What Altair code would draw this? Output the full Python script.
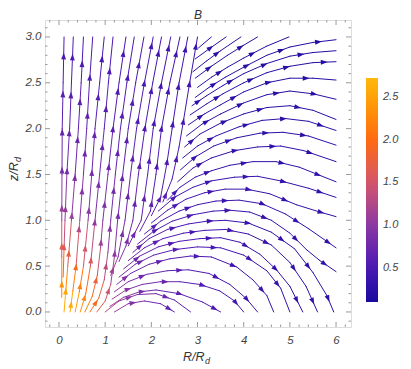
import math
import altair as alt
import pandas as pd

# ---------------- axis ranges and ticks ----------------
X_MIN, X_MAX = -0.303, 6.324
Y_MIN, Y_MAX = -0.164, 3.185
X_LABELS = [0, 1, 2, 3, 4, 5, 6]
Y_LABELS = [0.0, 0.5, 1.0, 1.5, 2.0, 2.5, 3.0]
X_MINOR = [-0.2, 0.2, 0.4, 0.6, 0.8, 1.2, 1.4, 1.6, 1.8, 2.2, 2.4, 2.6, 2.8, 3.2, 3.4, 3.6, 3.8,
           4.2, 4.4, 4.6, 4.8, 5.2, 5.4, 5.6, 5.8, 6.2]
Y_MINOR = [-0.1, 0.1, 0.2, 0.3, 0.4, 0.6, 0.7, 0.8, 0.9, 1.1, 1.2, 1.3, 1.4, 1.6, 1.7, 1.8, 1.9,
           2.1, 2.2, 2.3, 2.4, 2.6, 2.7, 2.8, 2.9, 3.1]
CBAR_LABELS = [0.5, 1.0, 1.5, 2.0, 2.5]
CBAR_STOPS = [0.1, 0.5, 1.0, 1.5, 2.0, 2.5, 2.72]
CBAR_COLORS = ["#1a0a9e", "#4a17b4", "#8c38a3", "#d4566c", "#ff6a10", "#ffa306", "#ffb70a"]

# ---------------- streamlines: (R, z) points and |B| per point ----------------
# fan of field lines leaving the inner disc and going to the top edge
F1 = [(0.06, 0.16), (0.06, 0.6), (0.06, 1.0), (0.065, 1.5), (0.07, 2.0), (0.09, 2.5), (0.11, 3.0)]
F1_B = [2.6, 1.9, 1.15, 0.85, 0.7, 0.58, 0.5]
F2 = [(0.09, 0.38), (0.11, 0.7), (0.13, 1.0), (0.17, 1.5), (0.23, 2.0), (0.27, 2.5), (0.31, 3.0)]
F2_B = [2.2, 1.6, 1.15, 0.85, 0.7, 0.58, 0.5]
F3 = [(0.11, 0.0), (0.15, 0.25), (0.19, 0.5), (0.27, 1.0), (0.35, 1.5), (0.42, 2.0), (0.48, 2.5), (0.53, 3.0)]
F3_B = [2.7, 2.5, 2.0, 1.15, 0.85, 0.7, 0.58, 0.5]
F4 = [(0.24, 0.0), (0.3, 0.23), (0.37, 0.5), (0.45, 1.0), (0.53, 1.5), (0.6, 2.0), (0.66, 2.5), (0.73, 3.0)]
F4_B = [2.7, 2.4, 1.95, 1.1, 0.85, 0.68, 0.57, 0.5]
F5 = [(0.35, 0.0), (0.44, 0.22), (0.53, 0.5), (0.63, 1.0), (0.71, 1.5), (0.78, 2.0), (0.88, 2.5), (0.98, 3.0)]
F5_B = [2.6, 2.3, 1.85, 1.05, 0.82, 0.67, 0.56, 0.48]
F6 = [(0.46, 0.0), (0.58, 0.2), (0.68, 0.5), (0.78, 1.0), (0.88, 1.5), (0.98, 2.0), (1.07, 2.5), (1.17, 3.0)]
F6_B = [2.5, 2.2, 1.7, 1.0, 0.8, 0.65, 0.55, 0.47]
F7 = [(0.56, 0.0), (0.72, 0.17), (0.83, 0.4), (0.9, 0.7), (0.95, 1.0), (1.06, 1.5), (1.17, 2.0), (1.3, 2.5), (1.45, 3.0)]
F7_B = [2.3, 2.1, 1.7, 1.2, 0.95, 0.78, 0.63, 0.53, 0.46]
F8 = [(0.67, 0.0), (0.86, 0.15), (0.98, 0.35), (1.06, 0.65), (1.12, 1.0), (1.22, 1.5), (1.33, 2.0), (1.47, 2.5), (1.63, 3.0)]
F8_B = [2.1, 1.9, 1.55, 1.1, 0.9, 0.75, 0.62, 0.52, 0.45]
F9 = [(0.82, 0.0), (1.0, 0.12), (1.12, 0.3), (1.2, 0.6), (1.27, 1.0), (1.38, 1.5), (1.5, 2.0), (1.66, 2.5), (1.84, 3.0)]
F9_B = [1.8, 1.6, 1.35, 1.0, 0.85, 0.72, 0.6, 0.5, 0.44]
F10 = [(1.12, 0.4), (1.28, 0.6), (1.43, 1.0), (1.55, 1.5), (1.68, 2.0), (1.85, 2.5), (2.04, 3.0)]
F10_B = [1.2, 1.0, 0.8, 0.68, 0.58, 0.49, 0.43]
F11 = [(1.3, 0.55), (1.45, 0.72), (1.6, 1.0), (1.72, 1.5), (1.86, 2.0), (2.03, 2.5), (2.22, 3.0)]
F11_B = [1.0, 0.9, 0.75, 0.64, 0.55, 0.47, 0.42]
F12 = [(1.5, 0.72), (1.78, 1.0), (1.92, 1.5), (2.04, 2.0), (2.22, 2.5), (2.42, 3.0)]
F12_B = [0.85, 0.7, 0.6, 0.52, 0.45, 0.4]
F13 = [(1.75, 0.88), (1.98, 1.1), (2.1, 1.5), (2.22, 2.0), (2.4, 2.5), (2.62, 3.0)]
F13_B = [0.75, 0.65, 0.56, 0.5, 0.44, 0.39]
F14 = [(2.0, 1.05), (2.2, 1.25), (2.33, 1.6), (2.45, 2.0), (2.6, 2.5), (2.79, 3.0)]
F14_B = [0.68, 0.6, 0.52, 0.47, 0.42, 0.38]
F15 = [(2.25, 1.2), (2.45, 1.45), (2.6, 1.8), (2.7, 2.1), (2.83, 2.5), (3.0, 3.0)]
F15_B = [0.62, 0.56, 0.5, 0.45, 0.4, 0.36]

# loops that return to the disc
B1 = [(1.2, 0.0), (1.5, 0.09), (1.85, 0.12), (2.2, 0.09), (2.5, 0.0)]
B1_B = [1.2, 0.95, 0.85, 0.75, 0.65]
B2 = [(1.0, 0.0), (1.3, 0.12), (1.7, 0.19), (2.1, 0.2), (2.5, 0.13), (2.85, 0.0)]
B2_B = [1.45, 1.1, 0.9, 0.8, 0.7, 0.6]
B3 = [(1.1, 0.06), (1.4, 0.16), (1.75, 0.22), (2.1, 0.24), (2.6, 0.2), (3.1, 0.11), (3.5, 0.0)]
B3_B = [1.25, 1.0, 0.85, 0.75, 0.65, 0.56, 0.5]
B4 = [(1.15, 0.14), (1.45, 0.24), (1.8, 0.3), (2.2, 0.33), (2.62, 0.33), (3.05, 0.3), (3.48, 0.23), (3.8, 0.12), (4.0, 0.0)]
B4_B = [1.2, 1.0, 0.85, 0.75, 0.66, 0.58, 0.5, 0.45, 0.42]
B5 = [(1.2, 0.22), (1.5, 0.33), (1.9, 0.41), (2.35, 0.45), (2.8, 0.46), (3.25, 0.42), (3.7, 0.3), (4.05, 0.15), (4.3, 0.0)]
B5_B = [1.1, 0.92, 0.78, 0.67, 0.58, 0.5, 0.44, 0.4, 0.38]
B6 = [(1.25, 0.3), (1.55, 0.42), (1.95, 0.52), (2.4, 0.58), (2.85, 0.61), (3.3, 0.6), (3.85, 0.49), (4.2, 0.35), (4.5, 0.18), (4.65, 0.0)]
B6_B = [1.0, 0.85, 0.72, 0.62, 0.54, 0.47, 0.41, 0.37, 0.35, 0.34]
B7 = [(1.3, 0.38), (1.65, 0.52), (2.05, 0.62), (2.5, 0.68), (3.0, 0.71), (3.5, 0.7), (4.0, 0.62), (4.5, 0.45), (4.8, 0.26), (5.0, 0.0)]
B7_B = [0.95, 0.8, 0.68, 0.58, 0.5, 0.44, 0.39, 0.35, 0.33, 0.32]
B8 = [(1.4, 0.47), (1.75, 0.61), (2.15, 0.71), (2.6, 0.77), (3.05, 0.8), (3.5, 0.81), (3.92, 0.76), (4.35, 0.63), (4.71, 0.46), (5.0, 0.28), (5.28, 0.0)]
B8_B = [0.88, 0.75, 0.64, 0.55, 0.48, 0.42, 0.38, 0.34, 0.32, 0.31, 0.3]
B9 = [(1.5, 0.56), (1.85, 0.7), (2.25, 0.8), (2.7, 0.86), (3.15, 0.89), (3.6, 0.9), (4.1, 0.85), (4.6, 0.73), (5.0, 0.54), (5.35, 0.28), (5.6, 0.0)]
B9_B = [0.8, 0.7, 0.6, 0.52, 0.46, 0.4, 0.36, 0.33, 0.31, 0.29, 0.28]
B10 = [(1.6, 0.65), (1.95, 0.8), (2.35, 0.9), (2.8, 0.96), (3.2, 0.99), (3.6, 1.0), (4.1, 0.97), (4.6, 0.87), (5.1, 0.69), (5.5, 0.43), (5.8, 0.18), (5.95, 0.0)]
B10_B = [0.75, 0.65, 0.56, 0.49, 0.43, 0.38, 0.35, 0.32, 0.3, 0.28, 0.27, 0.27]

# lower arches leaving through the right edge
G1 = [(1.7, 0.74), (2.05, 0.88), (2.45, 0.99), (2.9, 1.06), (3.34, 1.1), (3.7, 1.11), (4.13, 1.09), (4.6, 1.0), (5.0, 0.86), (5.36, 0.68), (5.65, 0.56), (6.0, 0.44)]
G1_B = [0.7, 0.6, 0.52, 0.46, 0.41, 0.38, 0.35, 0.33, 0.31, 0.3, 0.29, 0.28]
G2 = [(1.85, 0.85), (2.2, 0.99), (2.6, 1.1), (3.0, 1.17), (3.4, 1.21), (3.9, 1.22), (4.4, 1.18), (4.9, 1.07), (5.4, 0.91), (6.0, 0.7)]
G2_B = [0.65, 0.56, 0.49, 0.44, 0.4, 0.36, 0.34, 0.32, 0.3, 0.29]
G3 = [(2.0, 0.97), (2.35, 1.11), (2.75, 1.23), (3.15, 1.3), (3.6, 1.34), (4.06, 1.34), (4.56, 1.29), (5.14, 1.17), (5.65, 1.09), (6.0, 1.04)]
G3_B = [0.6, 0.52, 0.46, 0.41, 0.38, 0.35, 0.33, 0.31, 0.3, 0.29]
G4 = [(2.15, 1.1), (2.5, 1.25), (2.9, 1.36), (3.3, 1.43), (3.8, 1.47), (4.3, 1.48), (4.8, 1.43), (5.4, 1.35), (6.0, 1.25)]
G4_B = [0.55, 0.48, 0.43, 0.39, 0.36, 0.34, 0.32, 0.3, 0.29]

# upper lines: diagonal legs bending over towards the right edge
V1 = [(2.35, 1.22), (2.62, 1.36), (2.95, 1.47), (3.3, 1.54), (3.7, 1.6), (4.2, 1.64), (4.7, 1.64), (5.2, 1.58), (5.6, 1.5), (6.0, 1.42)]
V1_B = [0.5, 0.44, 0.4, 0.37, 0.34, 0.32, 0.3, 0.29, 0.28, 0.27]
V2 = [(2.57, 1.42), (2.9, 1.57), (3.3, 1.68), (3.8, 1.76), (4.3, 1.8), (4.8, 1.81), (5.3, 1.76), (6.0, 1.64)]
V2_B = [0.4, 0.36, 0.33, 0.31, 0.29, 0.28, 0.27, 0.26]
V3 = [(2.63, 1.55), (2.95, 1.69), (3.35, 1.81), (3.85, 1.9), (4.35, 1.95), (4.85, 1.96), (5.4, 1.92), (6.0, 1.82)]
V3_B = [0.38, 0.34, 0.31, 0.29, 0.27, 0.26, 0.26, 0.25]
V4 = [(2.68, 1.68), (3.0, 1.81), (3.4, 1.92), (3.9, 2.02), (4.4, 2.09), (4.9, 2.11), (5.4, 2.08), (6.0, 1.98)]
V4_B = [0.36, 0.32, 0.29, 0.27, 0.26, 0.25, 0.25, 0.24]
V5 = [(2.72, 1.8), (3.05, 1.94), (3.5, 2.06), (4.0, 2.16), (4.5, 2.23), (5.0, 2.25), (5.5, 2.2), (6.0, 2.1)]
V5_B = [0.34, 0.31, 0.28, 0.26, 0.25, 0.24, 0.24, 0.23]
V6 = [(2.76, 1.92), (3.1, 2.05), (3.5, 2.16), (4.0, 2.28), (4.5, 2.37), (5.0, 2.41), (5.5, 2.38), (6.0, 2.32)]
V6_B = [0.32, 0.29, 0.27, 0.25, 0.24, 0.23, 0.23, 0.22]
V7 = [(2.8, 2.04), (3.15, 2.16), (3.5, 2.26), (4.0, 2.4), (4.5, 2.5), (5.0, 2.55), (5.5, 2.55), (6.0, 2.53)]
V7_B = [0.3, 0.28, 0.26, 0.24, 0.23, 0.22, 0.22, 0.21]
V8 = [(2.84, 2.15), (3.2, 2.27), (3.55, 2.38), (4.0, 2.5), (4.5, 2.61), (5.0, 2.68), (5.5, 2.72), (6.0, 2.73)]
V8_B = [0.29, 0.27, 0.25, 0.23, 0.22, 0.21, 0.21, 0.2]
V9 = [(2.88, 2.25), (3.2, 2.36), (3.55, 2.47), (4.0, 2.6), (4.5, 2.71), (5.0, 2.79), (5.5, 2.83), (6.0, 2.85)]
V9_B = [0.28, 0.26, 0.24, 0.22, 0.21, 0.2, 0.2, 0.19]
V10 = [(2.95, 2.34), (3.25, 2.45), (3.6, 2.56), (4.0, 2.67), (4.5, 2.8), (5.0, 2.89), (5.5, 2.94), (6.0, 2.97)]
V10_B = [0.27, 0.25, 0.23, 0.21, 0.2, 0.19, 0.19, 0.19]

# lines leaving through the top edge
T0 = [(3.0, 2.45), (3.3, 2.56), (3.65, 2.67), (4.0, 2.77), (4.5, 2.9), (4.98, 3.0)]
T0_B = [0.26, 0.24, 0.22, 0.21, 0.2, 0.2]
T1 = [(2.95, 2.55), (3.3, 2.68), (3.65, 2.8), (4.0, 2.91), (4.3, 3.0)]
T1_B = [0.27, 0.25, 0.23, 0.22, 0.21]
T2 = [(2.9, 2.62), (3.2, 2.74), (3.5, 2.85), (3.94, 3.0)]
T2_B = [0.28, 0.26, 0.24, 0.23]
T3 = [(2.95, 2.76), (3.25, 2.87), (3.62, 3.0)]
T3_B = [0.28, 0.26, 0.24]
T4 = [(3.02, 2.88), (3.3, 3.0)]
T4_B = [0.28, 0.26]

STREAMLINES = {
    "F1": (F1, F1_B), "F2": (F2, F2_B), "F3": (F3, F3_B), "F4": (F4, F4_B), "F5": (F5, F5_B),
    "F6": (F6, F6_B), "F7": (F7, F7_B), "F8": (F8, F8_B), "F9": (F9, F9_B), "F10": (F10, F10_B),
    "F11": (F11, F11_B), "F12": (F12, F12_B), "F13": (F13, F13_B), "F14": (F14, F14_B),
    "F15": (F15, F15_B),
    "B1": (B1, B1_B), "B2": (B2, B2_B), "B3": (B3, B3_B), "B4": (B4, B4_B), "B5": (B5, B5_B),
    "B6": (B6, B6_B), "B7": (B7, B7_B), "B8": (B8, B8_B), "B9": (B9, B9_B), "B10": (B10, B10_B),
    "G1": (G1, G1_B), "G2": (G2, G2_B), "G3": (G3, G3_B), "G4": (G4, G4_B),
    "V1": (V1, V1_B), "V2": (V2, V2_B), "V3": (V3, V3_B), "V4": (V4, V4_B), "V5": (V5, V5_B),
    "V6": (V6, V6_B), "V7": (V7, V7_B), "V8": (V8, V8_B), "V9": (V9, V9_B), "V10": (V10, V10_B),
    "T0": (T0, T0_B), "T1": (T1, T1_B), "T2": (T2, T2_B), "T3": (T3, T3_B), "T4": (T4, T4_B),
}
# where along each line (in units of the arrow spacing) the first arrowhead sits
ARROW_PHASE = {
    "F1": 0.35, "F2": 0.8, "F3": 0.55, "F4": 0.2, "F5": 0.7, "F6": 0.4, "F7": 0.9, "F8": 0.3,
    "F9": 0.65, "F10": 0.15, "F11": 0.6, "F12": 0.35, "F13": 0.8, "F14": 0.5, "F15": 0.2,
    "B1": 0.55, "B2": 0.75, "B3": 0.95, "B4": 0.5, "B5": 0.85, "B6": 0.3, "B7": 0.7, "B8": 0.45,
    "B9": 0.9, "B10": 0.25, "G1": 0.6, "G2": 0.35, "G3": 0.8, "G4": 0.55,
    "V1": 0.3, "V2": 0.75, "V3": 0.5, "V4": 0.9, "V5": 0.25, "V6": 0.65, "V7": 0.4, "V8": 0.85,
    "V9": 0.2, "V10": 0.6, "T0": 0.7, "T1": 0.45, "T2": 0.8, "T3": 0.5, "T4": 0.6,
}

# ---------------- layout ----------------
W, H = 306, 307
SX = W / (X_MAX - X_MIN)
SY = H / (Y_MAX - Y_MIN)
ARROW_STEP = 38.0

seg_rows, arrow_rows = [], []
for name, (pts, mags) in STREAMLINES.items():
    if len(mags) == 1:
        mags = mags * len(pts)
    lens = []
    for i in range(len(pts) - 1):
        (x0, y0), (x1, y1) = pts[i], pts[i + 1]
        seg_rows.append({"line": name, "R": x0, "z": y0, "R2": x1, "z2": y1,
                         "B": (mags[i] + mags[i + 1]) / 2})
        lens.append(math.hypot((x1 - x0) * SX, (y1 - y0) * SY))
    total = sum(lens)
    s = ARROW_PHASE[name] * ARROW_STEP
    while s < total - 3:
        acc, i = 0.0, 0
        while acc + lens[i] < s:
            acc += lens[i]
            i += 1
        t = (s - acc) / lens[i]
        (x0, y0), (x1, y1) = pts[i], pts[i + 1]
        ang = math.degrees(math.atan2((x1 - x0) * SX, (y1 - y0) * SY)) % 360
        arrow_rows.append({"R": x0 + t * (x1 - x0), "z": y0 + t * (y1 - y0),
                           "B": mags[i] + t * (mags[i + 1] - mags[i]), "ang": ang})
        s += ARROW_STEP

segs = pd.DataFrame(seg_rows)
arrows = pd.DataFrame(arrow_rows)

xs = alt.Scale(domain=[X_MIN, X_MAX], nice=False, zero=False)
ys = alt.Scale(domain=[Y_MIN, Y_MAX], nice=False, zero=False)
cs = alt.Scale(domain=CBAR_STOPS, range=CBAR_COLORS, interpolate="rgb")
FONT = "Liberation Sans"
legend = alt.Legend(
    type="gradient", orient="none", legendX=321, legendY=58, title=None, values=CBAR_LABELS,
    format=".1f", gradientLength=224, gradientThickness=12, gradientStrokeWidth=0,
    labelFont=FONT, labelFontSize=11, labelFontStyle="italic", labelColor="#444444",
    labelOffset=5, direction="vertical",
)

x_axis = alt.Axis(values=X_LABELS, ticks=False, domain=False, grid=False, title=None,
                  labelFont=FONT, labelFontSize=11.5, labelFontStyle="italic",
                  labelColor="#444444", labelPadding=7, format="d")
y_axis = alt.Axis(values=Y_LABELS, ticks=False, domain=False, grid=False, title=None,
                  labelFont=FONT, labelFontSize=11.5, labelFontStyle="italic",
                  labelColor="#444444", labelPadding=4, format=".1f")

lines_layer = alt.Chart(segs).mark_rule(strokeWidth=1.0, strokeCap="round").encode(
    x=alt.X("R:Q", scale=xs, axis=x_axis),
    y=alt.Y("z:Q", scale=ys, axis=y_axis),
    x2="R2:Q", y2="z2:Q",
    color=alt.Color("B:Q", scale=cs, legend=legend),
    detail="line:N",
)

arrow_layer = alt.Chart(arrows).mark_point(
    shape="M0,-1L0.72,1L-0.72,1Z", filled=True, opacity=1, size=46, strokeWidth=0
).encode(
    x=alt.X("R:Q", scale=xs),
    y=alt.Y("z:Q", scale=ys),
    angle=alt.Angle("ang:Q", scale=None),
    color=alt.Color("B:Q", scale=cs, legend=None),
)

# frame ticks (Mathematica style, pointing inwards)
TICK = "#9a9a9a"
xt_major = pd.DataFrame({"v": X_LABELS})
xt_minor = pd.DataFrame({"v": X_MINOR})
yt_major = pd.DataFrame({"v": Y_LABELS})
yt_minor = pd.DataFrame({"v": Y_MINOR})


def xticks(df, length):
    bottom = alt.Chart(df).mark_rule(color=TICK, strokeWidth=1).encode(
        x=alt.X("v:Q", scale=xs), y=alt.value(H), y2=alt.value(H - length))
    top = alt.Chart(df).mark_rule(color=TICK, strokeWidth=1).encode(
        x=alt.X("v:Q", scale=xs), y=alt.value(0), y2=alt.value(length))
    return bottom + top


def yticks(df, length):
    left = alt.Chart(df).mark_rule(color=TICK, strokeWidth=1).encode(
        y=alt.Y("v:Q", scale=ys), x=alt.value(0), x2=alt.value(length))
    right = alt.Chart(df).mark_rule(color=TICK, strokeWidth=1).encode(
        y=alt.Y("v:Q", scale=ys), x=alt.value(W), x2=alt.value(W - length))
    return left + right


tick_layers = xticks(xt_major, 5) + xticks(xt_minor, 2.5) + yticks(yt_major, 5) + yticks(yt_minor, 2.5)

TITLE_STYLE = dict(font=FONT, fontStyle="italic", color="#333333")
title_mark = alt.Chart(pd.DataFrame({"t": ["B"]})).mark_text(
    align="center", baseline="alphabetic", fontSize=12, **TITLE_STYLE
).encode(text="t:N", x=alt.value(W / 2), y=alt.value(-1.5))
xtitle = alt.Chart(pd.DataFrame({"t": ["R/R"]})).mark_text(
    align="left", baseline="alphabetic", fontSize=12.5, **TITLE_STYLE
).encode(text="t:N", x=alt.value(138), y=alt.value(341))
xtitle_sub = alt.Chart(pd.DataFrame({"t": ["d"]})).mark_text(
    align="left", baseline="alphabetic", fontSize=9, **TITLE_STYLE
).encode(text="t:N", x=alt.value(160), y=alt.value(344))
ytitle = alt.Chart(pd.DataFrame({"t": ["z/R"]})).mark_text(
    align="left", baseline="alphabetic", angle=270, fontSize=12.5, **TITLE_STYLE
).encode(text="t:N", x=alt.value(-27), y=alt.value(161))
ytitle_sub = alt.Chart(pd.DataFrame({"t": ["d"]})).mark_text(
    align="left", baseline="alphabetic", angle=270, fontSize=9, **TITLE_STYLE
).encode(text="t:N", x=alt.value(-24), y=alt.value(142))

chart = alt.layer(
    lines_layer, arrow_layer, tick_layers, title_mark, xtitle, xtitle_sub, ytitle, ytitle_sub
).resolve_legend(color="independent").properties(
    width=W, height=H,
    autosize=alt.AutoSizeParams(type="none"),
    padding={"left": 37, "top": 12, "right": 50, "bottom": 38},
).configure_view(stroke="#a0a0a0", strokeWidth=1).configure(background="white")

chart.save("out.html", embed_options={"renderer": "svg", "actions": False})
